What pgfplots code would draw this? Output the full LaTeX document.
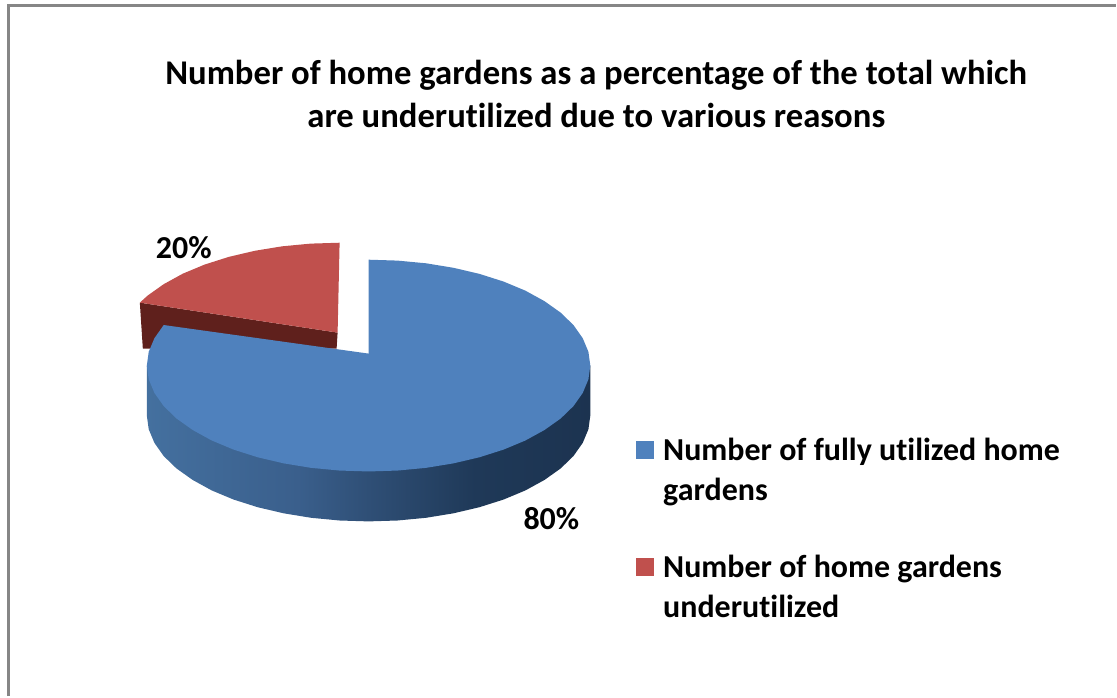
\documentclass[border=0pt]{standalone}
\usepackage{pgfplots}
\pgfplotsset{compat=1.18}
\usepackage{fontspec}
\setmainfont[Ligatures=NoCommon]{Carlito}
\definecolor{pieblue}{HTML}{4F81BD}
\definecolor{piered}{HTML}{C0504D}
\definecolor{reddark}{HTML}{5F201C}
\definecolor{frame}{HTML}{868686}
\definecolor{sa}{HTML}{44709F}
\definecolor{sb}{HTML}{3A5F8C}
\definecolor{sc}{HTML}{2F4F76}
\definecolor{sd}{HTML}{1F3958}
\definecolor{se}{HTML}{1C3350}
\pgfdeclarehorizontalshading{pieside}{100bp}{color(0bp)=(sa); color(25bp)=(sa); color(42bp)=(sb); color(50bp)=(sc); color(62bp)=(sd); color(75bp)=(se); color(100bp)=(se)}
\begin{document}
\begin{tikzpicture}
\begin{axis}[
  scale only axis, width=1117pt, height=697pt,
  xmin=0, xmax=1117, ymin=0, ymax=697, y dir=reverse,
  hide axis, clip=false,
  legend cell align=left,
  legend style={at={(axis cs:637,439)}, anchor=north west, draw=none, fill=none,
    inner sep=0pt, outer sep=0pt, row sep=53pt, column sep=9pt,
    font=\fontsize{32}{40}\selectfont\bfseries,
    nodes={align=left, inner sep=0pt, outer sep=0pt}},
  legend image code/.code={\fill[#1] (0pt,11pt) rectangle (18pt,29pt);},
]
\path (axis cs:0,0) (axis cs:1117,697);
\addlegendimage{fill=pieblue, draw=none}
\addlegendentry{Number of fully utilized home\\gardens}
\addlegendimage{fill=piered, draw=none}
\addlegendentry{Number of home gardens\\underutilized}
% frame
\addplot[forget plot, frame, line width=2.6pt] coordinates {(8.5,697) (8.5,5.5) (1117,5.5)};
% side of the exploded red slice
\addplot[forget plot, fill=reddark, draw=none] coordinates {(140,303) (338,333) (337,349) (143,349)} -- cycle;
% red top face
\addplot[forget plot, fill=piered, draw=none] coordinates {
 (340,243) (311,243.9) (282.5,246.6) (255,251.1) (229,257.2) (204.8,264.9) (183,274)
 (163.9,284.5) (147.7,296) (140,303) (338,333)} -- cycle;
% side of the blue slice
\addplot[forget plot, shading=pieside, draw=none] coordinates {
 (591,366) (591,416) (589.1,429.8) (583.4,443.4) (574.1,456.6) (561.3,469) (545.1,480.5)
 (526,491) (504.2,500.1) (480,507.8) (454,513.9) (426.5,518.4) (398,521.1) (369,522)
 (340,521.1) (311.5,518.4) (284,513.9) (258,507.8) (233.8,500.1) (212,491) (192.9,480.5)
 (176.7,469) (163.9,456.6) (154.6,443.4) (148.9,429.8) (147,416) (147,366)} -- cycle;
% blue top face
\addplot[forget plot, fill=pieblue, draw=none] coordinates {
 (369,260) (398,260.9) (426.5,263.6) (454,268.1) (480,274.2) (504.2,281.9) (526,291)
 (545.1,301.5) (561.3,313) (574.1,325.4) (583.4,338.6) (589.1,352.2) (591,366)
 (589.1,379.8) (583.4,393.4) (574.1,406.6) (561.3,419) (545.1,430.5) (526,441)
 (504.2,450.1) (480,457.8) (454,463.9) (426.5,468.4) (398,471.1) (369,472)
 (340,471.1) (311.5,468.4) (284,463.9) (258,457.8) (233.8,450.1) (212,441)
 (192.9,430.5) (176.7,419) (163.9,406.6) (154.6,393.4) (148.9,379.8) (147,366)
 (148.9,352.2) (154.6,338.6) (163.9,325.4) (369,354)} -- cycle;
\node[font=\fontsize{34.7}{43}\selectfont\bfseries, align=center, anchor=center] at (axis cs:597,94.5)
  {Number of home gardens as a percentage of the total which\\are underutilized due to various reasons};
\node[font=\fontsize{32}{36}\selectfont\bfseries] at (axis cs:184,248) {20\%};
\node[font=\fontsize{32}{36}\selectfont\bfseries] at (axis cs:552,519) {80\%};
\end{axis}
\end{tikzpicture}
\end{document}
